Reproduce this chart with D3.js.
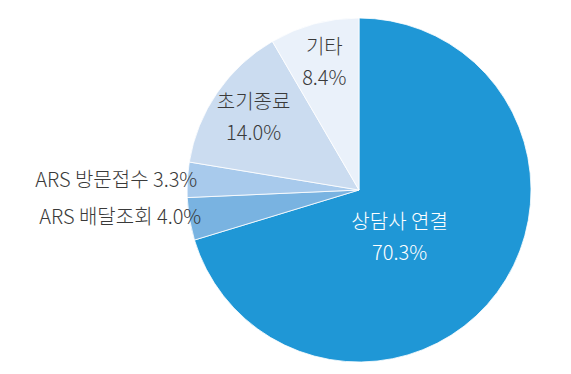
<!DOCTYPE html>
<html>
<head>
<meta charset="utf-8">
<script src="https://cdn.jsdelivr.net/npm/d3@7"></script>
<style>
  body { margin: 0; background: #fff; }
  text { font-family: "Noto Sans CJK KR", "Noto Sans", sans-serif; font-weight: 300; }
</style>
</head>
<body>
<div id="chart"></div>
<script>
var categories = ["상담사 연결", "ARS 배달조회", "ARS 방문접수", "초기종료", "기타"];
var values = [70.3, 4.0, 3.3, 14.0, 8.4];
var colors = ["#1f97d6", "#79b3e1", "#a8caec", "#cbdcf0", "#eaf1fa"];

function pieChart() {
    var width = 571;
    var height = 374;
    var cx = 359, cy = 190;
    var radius = 172;

    var dataset = categories.map(function(c, i) {
        return {caption: c, value: values[i], color: colors[i]};
    });

    var svg = d3.select('#chart')
      .append('svg')
      .attr('width', width)
      .attr('height', height)
      .append('g')
      .attr('transform', 'translate(' + cx + ',' + cy + ')');

    var arc = d3.arc()
      .innerRadius(0)
      .outerRadius(radius);

    var pie = d3.pie()
      .value(function(d) { return d.value; })
      .sort(null);

    var arcs = pie(dataset);

    svg.selectAll('path')
      .data(arcs)
      .enter()
      .append('path')
      .attr('d', arc)
      .attr('fill', function(d) { return d.data.color; })
      .attr('stroke', '#fff')
      .attr('stroke-width', 0.8);

    // label radius per slice; inside labels get two lines, outside ones one line
    var labelR = [62, 160, 162, 128, 133];
    var angleShift = [0.22, 0, 0, 0, 0];

    function pos(d, i) {
        var a = (d.startAngle + d.endAngle) / 2 + angleShift[i];
        return [labelR[i] * Math.sin(a), -labelR[i] * Math.cos(a)];
    }

    arcs.forEach(function(d, i) {
        var p = pos(d, i);
        var fill = i === 0 ? '#fff' : '#3a3a3a';
        if (i === 1 || i === 2) {
            svg.append('text')
              .attr('x', p[0])
              .attr('y', p[1])
              .attr('dy', '0.35em')
              .attr('text-anchor', 'end')
              .attr('font-size', 20)
              .attr('fill', fill)
              .text(d.data.caption + ' ' + d.data.value.toFixed(1) + '%');
        } else {
            var t = svg.append('text')
              .attr('text-anchor', 'middle')
              .attr('font-size', 20)
              .attr('fill', fill);
            t.append('tspan')
              .attr('x', p[0])
              .attr('y', p[1] - 15)
              .attr('dy', '0.35em')
              .text(d.data.caption);
            t.append('tspan')
              .attr('x', p[0])
              .attr('y', p[1] + 16)
              .attr('dy', '0.35em')
              .text(d.data.value.toFixed(1) + '%');
        }
    });
}

pieChart();
</script>
</body>
</html>
